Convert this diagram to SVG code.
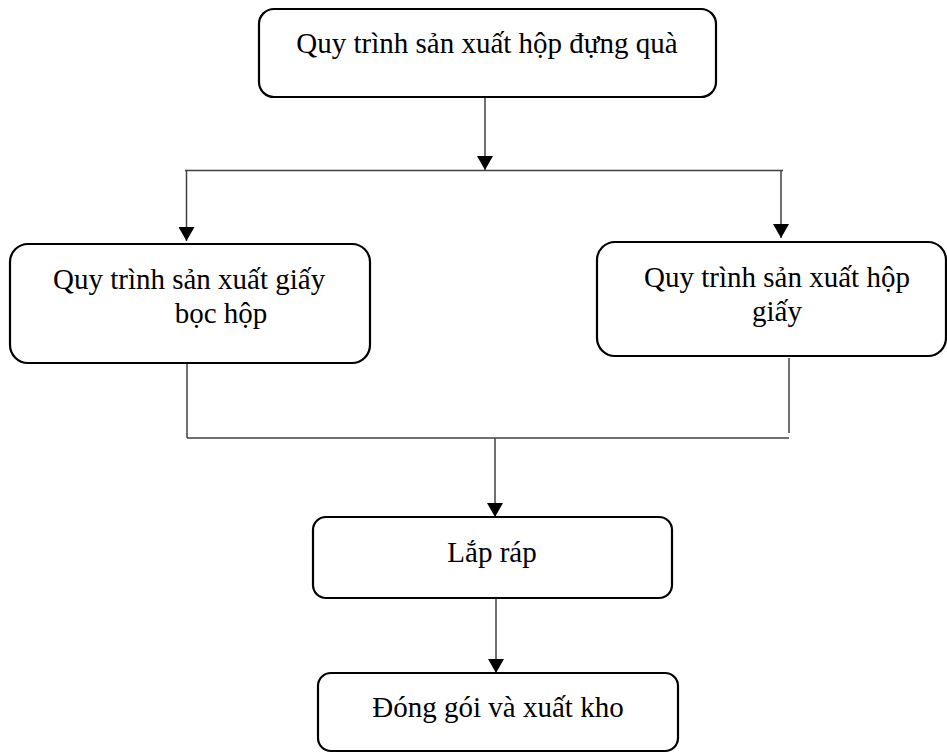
<svg xmlns="http://www.w3.org/2000/svg" width="947" height="756" viewBox="0 0 947 756">
<style>
.box{fill:#fff;stroke:#000;stroke-width:2.2}
.t{font-family:"Liberation Serif","Times New Roman",serif;font-size:29px;fill:#000}
.c{text-anchor:middle}
.ln{fill:none;stroke:#404040;stroke-width:1.5}
</style>
<defs>
<marker id="ah" markerUnits="userSpaceOnUse" markerWidth="15" markerHeight="16" refX="14" refY="8" orient="auto" viewBox="0 0 15 16">
<path d="M0,0 L14,8 L0,16 Z" fill="#000"/>
</marker>
</defs>
<rect width="947" height="756" fill="#fff"/>
<g id="connectors">
<line class="ln" x1="485" y1="97" x2="485" y2="170" marker-end="url(#ah)"/>
<line class="ln" x1="185" y1="170.5" x2="783" y2="170.5"/>
<line class="ln" x1="186.5" y1="171" x2="186.5" y2="241" marker-end="url(#ah)"/>
<line class="ln" x1="781" y1="171" x2="781" y2="238" marker-end="url(#ah)"/>
<line class="ln" x1="187" y1="363" x2="187" y2="438"/>
<line class="ln" x1="789" y1="358" x2="789" y2="433"/>
<line class="ln" x1="187" y1="438" x2="789" y2="438"/>
<line class="ln" x1="495" y1="438" x2="495" y2="517" marker-end="url(#ah)"/>
<line class="ln" x1="496" y1="598" x2="496" y2="673" marker-end="url(#ah)"/>
</g>
<g id="node-top">
<rect class="box" x="259" y="9" width="457" height="88" rx="15"/>
<text class="t c" x="487" y="53">Quy trình sản xuất hộp đựng quà</text>
</g>
<g id="node-left">
<rect class="box" x="10" y="244" width="360" height="119" rx="18"/>
<text class="t" x="53" y="289">Quy trình sản xuất giấy</text>
<text class="t c" x="221" y="323">bọc hộp</text>
</g>
<g id="node-right">
<rect class="box" x="597" y="242" width="349" height="114" rx="18"/>
<text class="t c" x="777" y="287">Quy trình sản xuất hộp</text>
<text class="t c" x="777" y="321">giấy</text>
</g>
<g id="node-assemble">
<rect class="box" x="313" y="517" width="359" height="81" rx="13"/>
<text class="t c" x="492" y="562">Lắp ráp</text>
</g>
<g id="node-pack">
<rect class="box" x="318" y="673" width="360" height="78" rx="13"/>
<text class="t c" x="498" y="717">Đóng gói và xuất kho</text>
</g>
</svg>
